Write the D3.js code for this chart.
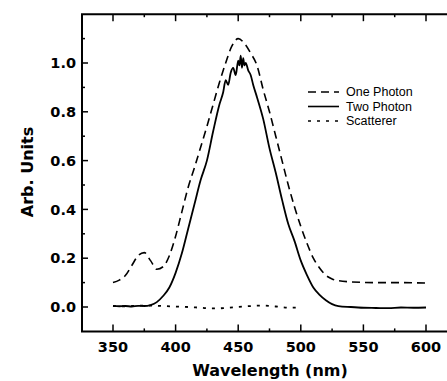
<!DOCTYPE html>
<html>
<head>
<meta charset="utf-8">
<script src="https://cdn.jsdelivr.net/npm/d3@7"></script>
<style>
  body { margin: 0; background: #fff; }
  svg { display: block; }
</style>
</head>
<body>
<svg></svg>
<script>
// spectra (wavelength nm, arb. units)
const onePhotonWl = [350, 355, 360, 365, 370, 375, 380, 385, 390, 395, 400, 405, 410, 415, 420, 425, 430, 435, 440, 445, 450, 455, 460, 465, 470, 475, 480, 485, 490, 495, 500, 505, 510, 515, 520, 525, 530, 540, 560, 580, 600];
const onePhotonVal = [0.10, 0.11, 0.13, 0.17, 0.21, 0.223, 0.19, 0.155, 0.165, 0.21, 0.29, 0.39, 0.49, 0.57, 0.655, 0.74, 0.83, 0.92, 1.00, 1.07, 1.10, 1.08, 1.04, 0.99, 0.89, 0.80, 0.70, 0.60, 0.50, 0.41, 0.33, 0.26, 0.20, 0.16, 0.13, 0.115, 0.108, 0.103, 0.10, 0.10, 0.098];

const twoPhotonWl = [350, 355, 360, 365, 370, 375, 380, 385, 390, 395, 400, 405, 410, 415, 420, 425, 430, 435, 438, 440, 442, 444, 446, 448, 450, 451, 452, 453, 454, 455, 456, 458, 460, 462, 465, 470, 475, 480, 485, 490, 495, 500, 505, 510, 515, 520, 525, 530, 540, 550, 560, 570, 580, 590, 600];
const twoPhotonVal = [0.005, 0.003, 0.004, 0.002, 0.005, 0.004, 0.008, 0.02, 0.045, 0.08, 0.14, 0.22, 0.32, 0.42, 0.52, 0.60, 0.72, 0.83, 0.88, 0.93, 0.91, 0.96, 0.98, 0.95, 1.01, 0.99, 1.03, 0.98, 1.02, 0.99, 1.00, 0.97, 0.95, 0.91, 0.86, 0.77, 0.65, 0.55, 0.44, 0.34, 0.27, 0.19, 0.13, 0.08, 0.05, 0.028, 0.012, 0.004, 0.0, -0.003, -0.004, -0.005, -0.002, -0.003, -0.002];

const scattererWl = [350, 360, 370, 380, 390, 400, 410, 420, 430, 440, 450, 460, 470, 480, 490, 500];
const scattererVal = [0.004, 0.003, 0.005, 0.006, 0.004, 0.002, 0.0, -0.003, -0.006, -0.004, 0.0, 0.004, 0.006, 0.002, -0.003, -0.002];

const xTicks = [350, 400, 450, 500, 550, 600];
const xMinor = [375, 425, 475, 525, 575];
const yTicks = [0, 0.2, 0.4, 0.6, 0.8, 1.0];
const yMinor = [0.1, 0.3, 0.5, 0.7, 0.9, 1.1];

const legendNames = ["One Photon", "Two Photon", "Scatterer"];
const legendDash = ["8,5", null, "3,6"];

const width = 447, height = 381;
const svg = d3.select("svg").attr("width", width).attr("height", height);

const x = d3.scaleLinear().domain([350, 600]).range([113, 426]);
const y = d3.scaleLinear().domain([0, 1]).range([307, 63]);

const plotLeft = 82, plotRight = 450;
const plotTop = y(1.2), plotBottom = y(-0.1);

// frame
svg.append("path")
  .attr("d", `M${plotRight},${plotTop}H${plotLeft}V${plotBottom}H${plotRight}`)
  .attr("fill", "none")
  .attr("stroke", "#000")
  .attr("stroke-width", 2);

const tickG = svg.append("g").attr("stroke", "#000").attr("stroke-width", 1.5);
xTicks.forEach(v => {
  tickG.append("line").attr("x1", x(v)).attr("x2", x(v)).attr("y1", plotBottom).attr("y2", plotBottom - 7);
  tickG.append("line").attr("x1", x(v)).attr("x2", x(v)).attr("y1", plotTop).attr("y2", plotTop + 7);
});
xMinor.forEach(v => {
  tickG.append("line").attr("x1", x(v)).attr("x2", x(v)).attr("y1", plotBottom).attr("y2", plotBottom - 3);
  tickG.append("line").attr("x1", x(v)).attr("x2", x(v)).attr("y1", plotTop).attr("y2", plotTop + 3);
});
yTicks.forEach(v => {
  tickG.append("line").attr("x1", plotLeft).attr("x2", plotLeft + 6).attr("y1", y(v)).attr("y2", y(v));
});
yMinor.forEach(v => {
  tickG.append("line").attr("x1", plotLeft).attr("x2", plotLeft + 3).attr("y1", y(v)).attr("y2", y(v));
});

const boldFont = "'DejaVu Sans', Arial, sans-serif";

svg.append("g").selectAll("text")
  .data(xTicks)
  .join("text")
  .attr("x", d => x(d))
  .attr("y", 352)
  .attr("text-anchor", "middle")
  .style("font-family", boldFont)
  .style("font-weight", "bold")
  .style("font-size", "14.5px")
  .text(d => d);

svg.append("g").selectAll("text")
  .data(yTicks)
  .join("text")
  .attr("x", 76)
  .attr("y", d => y(d))
  .attr("dy", "0.36em")
  .attr("text-anchor", "end")
  .style("font-family", boldFont)
  .style("font-weight", "bold")
  .style("font-size", "14.5px")
  .text(d => d.toFixed(1));

svg.append("text")
  .attr("x", 270)
  .attr("y", 376)
  .attr("text-anchor", "middle")
  .style("font-family", boldFont)
  .style("font-weight", "bold")
  .style("font-size", "16px")
  .text("Wavelength (nm)");

svg.append("text")
  .attr("transform", "translate(33,172) rotate(-90)")
  .attr("text-anchor", "middle")
  .style("font-family", boldFont)
  .style("font-weight", "bold")
  .style("font-size", "16px")
  .text("Arb. Units");

const line = d3.line().curve(d3.curveMonotoneX).x(d => x(d[0])).y(d => y(d[1]));
const series = [
  [d3.zip(onePhotonWl, onePhotonVal), legendDash[0], 1.6],
  [d3.zip(twoPhotonWl, twoPhotonVal), legendDash[1], 1.8],
  [d3.zip(scattererWl, scattererVal), legendDash[2], 1.8]
];
series.forEach(([pts, dash, w]) => {
  svg.append("path")
    .datum(pts)
    .attr("d", line)
    .attr("fill", "none")
    .attr("stroke", "#000")
    .attr("stroke-width", w)
    .attr("stroke-dasharray", dash);
});

// legend
const lg = svg.append("g");
legendNames.forEach((name, i) => {
  const ly = 92 + i * 14.5;
  lg.append("line")
    .attr("x1", 308).attr("x2", 339)
    .attr("y1", ly).attr("y2", ly)
    .attr("stroke", "#000")
    .attr("stroke-width", 1.6)
    .attr("stroke-dasharray", legendDash[i]);
  lg.append("text")
    .attr("x", 346)
    .attr("y", ly + 4)
    .style("font-family", "'Liberation Sans', Arial, sans-serif")
    .style("font-size", "12.5px")
    .text(name);
});
</script>
</body>
</html>
